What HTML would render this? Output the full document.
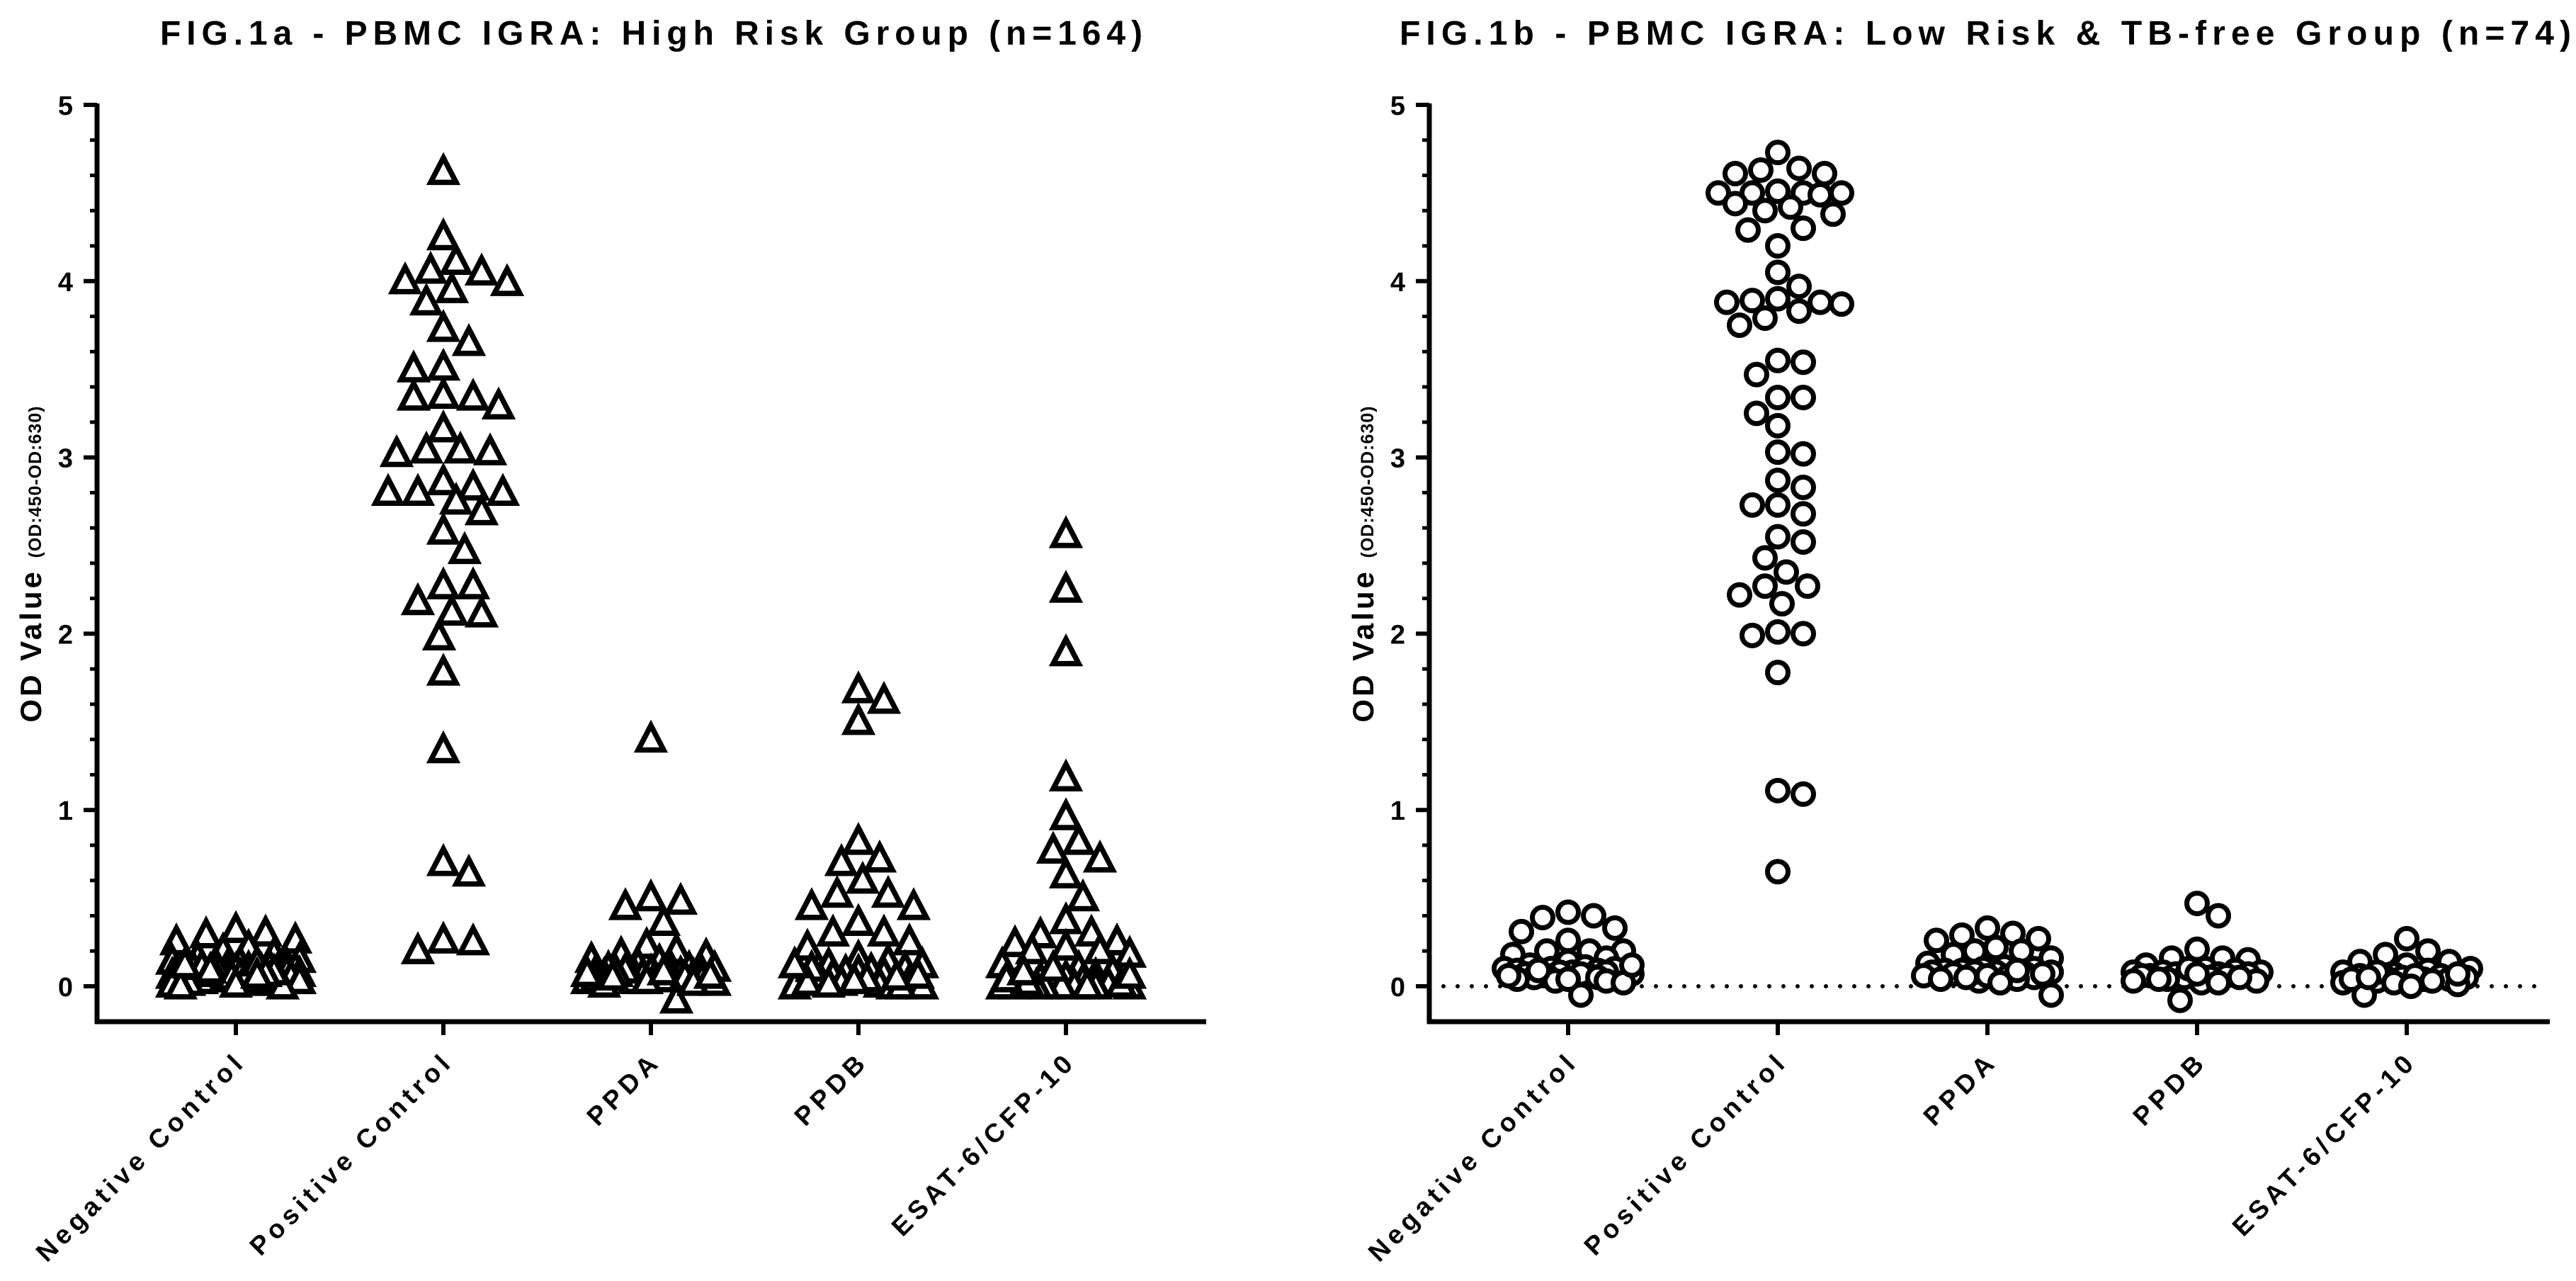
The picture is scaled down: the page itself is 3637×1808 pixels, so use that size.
<!DOCTYPE html>
<html><head><meta charset="utf-8"><style>
html,body{margin:0;padding:0;background:#fff;}
svg{display:block;}
text{font-family:"Liberation Sans",Arial,sans-serif;font-weight:bold;fill:#000;}
</style></head><body>
<svg id="fig" width="3637" height="1808" viewBox="0 0 3637 1808" xmlns="http://www.w3.org/2000/svg">
<text x="226" y="63" font-size="48" textLength="1387" lengthAdjust="spacing">FIG.1a - PBMC IGRA: High Risk Group (n=164)</text>
<text x="1976" y="63" font-size="48" textLength="1654" lengthAdjust="spacing">FIG.1b - PBMC IGRA: Low Risk &amp; TB-free Group (n=74)</text>
<g id="panelA"></g>
<g id="panelB"></g>
</svg>
<script>
const categories = ["Negative Control","Positive Control","PPDA","PPDB","ESAT-6/CFP-10"];
const yTicks = [0,1,2,3,4,5];
const yTickLabels = ["0","1","2","3","4","5"];

const highNeg = [0.30,0.32,0.29,0.26,0.25,0.22,0.20,0.18,0.16,0.15,0.14,0.13,0.12,0.12,0.11,0.11,0.10,0.10,0.10,0.09,0.09,0.09,0.08,0.08,0.08,0.07,0.07,0.07,0.06,0.06,0.06,0.05,0.05,0.05,0.04,0.04,0.03,0.03,0.02,0.02,0.01,0.10,0.09,0.08,0.07,0.06,0.05,0.04,0.03,0.02,0.01,0.00,0.00,0.11,0.12,0.13,0.09,0.08,0.07,0.06];
const highPos = [4.62,4.25,4.11,4.05,4.06,3.99,4.00,3.95,3.88,3.73,3.65,3.51,3.50,3.34,3.34,3.35,3.29,3.16,3.04,3.04,3.02,3.03,2.86,2.83,2.80,2.80,2.80,2.75,2.69,2.58,2.47,2.27,2.27,2.18,2.12,2.11,1.98,1.78,1.34,0.70,0.64,0.26,0.25,0.20];
const highPPDA = [1.40,0.48,0.45,0.50,0.36,0.20,0.23,0.18,0.15,0.17,0.14,0.12,0.10,0.10,0.09,0.08,0.08,0.07,0.07,0.06,0.06,0.05,0.05,0.05,0.04,0.04,0.03,0.03,0.02,-0.08,0.10,0.09,0.08,0.07,0.06,0.05,0.04,0.03,0.02,0.01,0.06,0.07,0.08,0.05];
const highPPDB = [1.62,1.68,1.50,0.82,0.70,0.72,0.60,0.52,0.52,0.45,0.45,0.36,0.30,0.30,0.25,0.22,0.16,0.14,0.12,0.12,0.10,0.09,0.08,0.07,0.06,0.05,0.04,0.03,0.02,0.01,0.00,0.00,0.00,0.10,0.08,0.06,0.04,0.02,0.00,0.01,0.03,0.05,0.12];
const highESAT = [2.56,2.25,1.89,1.18,0.96,0.82,0.77,0.72,0.63,0.50,0.37,0.30,0.29,0.25,0.24,0.22,0.20,0.18,0.20,0.12,0.10,0.08,0.06,0.05,0.04,0.03,0.02,0.01,0.00,0.00,0.00,0.00,0.00,0.00,0.00,0.00,0.00,0.01,0.02,0.04,0.06,0.08,0.10];

const lowNeg = [0.42,0.40,0.39,0.33,0.31,0.26,0.20,0.20,0.20,0.18,0.16,0.14,0.12,0.11,0.10,0.10,0.09,0.09,0.08,0.08,0.08,0.07,0.07,0.06,0.06,0.05,0.05,0.04,0.03,-0.05,0.10,0.09,0.08,0.07,0.06,0.05,0.04,0.03,0.02,0.12];
const lowPos = [4.73,4.63,4.61,4.61,4.64,4.50,4.51,4.50,4.50,4.50,4.44,4.42,4.40,4.38,4.49,4.30,4.29,4.20,4.05,3.97,3.90,3.88,3.88,3.89,3.87,3.83,3.79,3.75,3.54,3.55,3.47,3.34,3.34,3.25,3.18,3.02,3.03,2.87,2.83,2.73,2.73,2.68,2.55,2.52,2.43,2.35,2.27,2.27,2.22,2.17,2.01,2.00,1.99,1.78,1.11,1.09,0.65];
const lowPPDA = [0.33,0.29,0.30,0.26,0.27,0.22,0.20,0.20,0.18,0.16,0.13,0.11,0.10,0.09,0.09,0.08,0.08,0.08,0.07,0.07,0.06,0.06,0.05,0.04,0.03,-0.05,0.10,0.08,0.06,0.04,0.02,0.09,0.07,0.05];
const lowPPDB = [0.47,0.40,0.21,0.16,0.16,0.15,0.12,0.10,0.09,0.08,0.08,0.07,0.07,0.07,0.06,0.06,0.05,0.05,0.04,0.03,0.02,-0.08,0.10,0.08,0.06,0.04,0.02,0.07,0.05,0.03];
const lowESAT = [0.27,0.20,0.18,0.14,0.14,0.12,0.10,0.09,0.08,0.07,0.06,0.06,0.05,0.05,0.05,0.04,0.04,0.03,0.02,0.01,-0.05,0.08,0.06,0.04,0.02,0.00,0.07,0.05,0.03];

const highSeries = [highNeg,highPos,highPPDA,highPPDB,highESAT];
const lowSeries = [lowNeg,lowPos,lowPPDA,lowPPDB,lowESAT];

const NS = "http://www.w3.org/2000/svg";
function mk(tag, attrs, parent){
  const e = document.createElementNS(NS, tag);
  for (const k in attrs) e.setAttribute(k, attrs[k]);
  parent.appendChild(e);
  return e;
}

function beeswarm(vals, yScale, d, maxOff){
  const idx = vals.map((v,i)=>i).sort((a,b)=>vals[b]-vals[a]);
  const placed = [];
  const out = new Array(vals.length);
  const cands = [0];
  const st = 6;
  for (let k=1; k*st<=maxOff; k++){ cands.push(k*st); cands.push(-k*st); }
  idx.forEach(i=>{
    const y = yScale(vals[i]);
    let best = 0, bestD = -1;
    for (const c of cands){
      let md = 1e9;
      for (const p of placed){
        const dx=p.x-c, dy=p.y-y;
        const dd = Math.sqrt(dx*dx+dy*dy);
        if (dd<md) md=dd;
      }
      if (md >= d){ best = c; break; }
      if (md > bestD){ bestD = md; best = c; }
    }
    placed.push({x:best,y:y});
    out[i] = best;
  });
  return out;
}

function drawPanel(g, cfg){
  const {axX, x0, step, xEnd, series, marker, titleX, zeroLine} = cfg;
  const y0 = 1392, y5 = 148;
  const yScale = v => y0 - (v/5)*(y0-y5);
  const xScale = i => x0 + i*step;
  const bottomY = 1442;
  const yl = mk("line",{x1:axX,y1:y5-2,x2:axX,y2:bottomY+3,stroke:"#000","stroke-width":7},g);
  
  
  for (let m=0; m<=25; m++){
    const v = m*0.2;
    const major = m%5===0;
    const t = mk("line",{x1:axX-(major?19:10),y1:yScale(v),x2:axX,y2:yScale(v),stroke:"#000","stroke-width":major?6:5},g);
    
    
  }
  yTicks.forEach((v,i)=>{
    const t = mk("text",{x:axX-34,y:yScale(v)+14,"font-size":38,"text-anchor":"end"},g);
    t.textContent = yTickLabels[i];
    
    
  });
  const yt = mk("text",{transform:`translate(${titleX},796) rotate(-90)`,"text-anchor":"middle","font-size":42,"letter-spacing":"4"},g);
  
  
  const s1 = mk("tspan",{},yt); s1.textContent = "OD Value ";
  const s2 = mk("tspan",{"font-size":25,"letter-spacing":"1"},yt); s2.textContent = "(OD:450-OD:630)";
  const xl = mk("line",{x1:axX-3,y1:bottomY,x2:xEnd,y2:bottomY,stroke:"#000","stroke-width":7},g);
  
  
  categories.forEach((c,i)=>{
    const cx = xScale(i);
    const t = mk("line",{x1:cx,y1:bottomY,x2:cx,y2:bottomY+19,stroke:"#000","stroke-width":6},g);
    
    
    const lb = mk("text",{transform:`translate(${cx+16},${bottomY+58}) rotate(-45)`,"text-anchor":"end","font-size":37,"letter-spacing":"6.5"},g);
    lb.textContent = c;
    
    
  });
  if (zeroLine){
    const zl = mk("line",{x1:axX+20,y1:yScale(0),x2:xEnd-12,y2:yScale(0),stroke:"#000","stroke-width":6,"stroke-dasharray":"0 20","stroke-linecap":"round"},g);
    
    
  }
  series.forEach((vals,ci)=>{
    const grp = mk("g",{},g);
    
    
    const offs = beeswarm(vals, yScale, marker==='tri'?38:33, 92);
    vals.forEach((v,i)=>{
      const x = xScale(ci)+offs[i], y = yScale(v);
      let el;
      if (marker==='tri'){
        const h=33, w=18;
        el = mk("polygon",{points:`${x},${y-h*0.6} ${x+w},${y+h*0.45} ${x-w},${y+h*0.45}`,fill:"#fff",stroke:"#000","stroke-width":7.5,"stroke-linejoin":"miter"},grp);
      } else {
        el = mk("circle",{cx:x,cy:y,r:14.5,fill:"#fff",stroke:"#000","stroke-width":7},grp);
      }
      
      
    });
  });
}

drawPanel(document.getElementById('panelA'),{axX:137,x0:333,step:293,xEnd:1703,series:highSeries,marker:'tri',titleX:58,zeroLine:false});
drawPanel(document.getElementById('panelB'),{axX:2018,x0:2214,step:296,xEnd:3600,series:lowSeries,marker:'circ',titleX:1939,zeroLine:true});
</script>
</body></html>
